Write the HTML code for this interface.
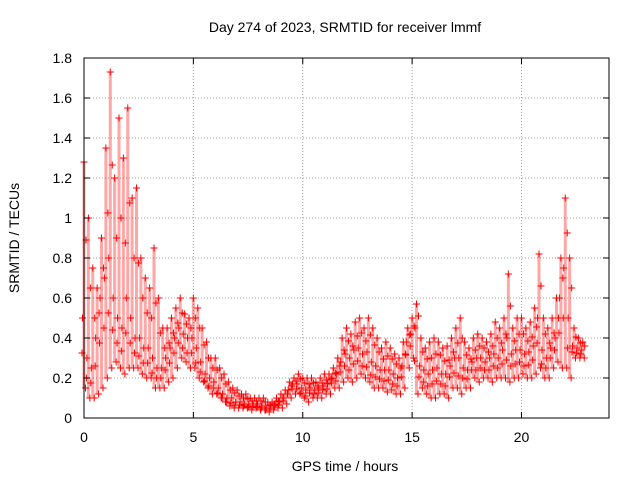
<!DOCTYPE html>
<html><head><meta charset="utf-8"><style>
body{margin:0;background:#fff}
svg{display:block;font-family:"Liberation Sans",sans-serif}
</style></head><body>
<svg id="chart" width="640" height="480">
<text x="345" y="32" font-size="14" text-anchor="middle">Day 274 of 2023, SRMTID for receiver lmmf</text>
<text x="345" y="471" font-size="14" text-anchor="middle">GPS time / hours</text>
<text x="19" y="238" font-size="14" text-anchor="middle" transform="rotate(-90 19 238)">SRMTID / TECUs</text>
<g id="grid"></g><g id="band"></g><g id="marks"></g><g id="axes"></g>
</svg>
<script>
const xTicks=[0,5,10,15,20];
const yTicks=[0,0.2,0.4,0.6,0.8,1,1.2,1.4,1.6,1.8];
const yTickLabels=["0","0.2","0.4","0.6","0.8","1","1.2","1.4","1.6","1.8"];
const timeStep=0.2;
const hiValues=[1.28,1.0,0.75,0.65,0.9, 1.35,1.73,1.2,1.5,1.3, 1.55,1.1,1.15,0.8,0.7, 0.65,0.85,0.6,0.45,0.45,
0.5,0.55,0.6,0.52,0.5, 0.6,0.55,0.45,0.38,0.3, 0.3,0.25,0.22,0.18,0.15, 0.14,0.12,0.12,0.1,0.1,
0.1,0.1,0.08,0.08,0.1, 0.12,0.14,0.18,0.2,0.22, 0.2,0.2,0.2,0.18,0.2, 0.22,0.22,0.25,0.3,0.4,
0.45,0.42,0.48,0.5,0.45, 0.5,0.45,0.4,0.35,0.38, 0.35,0.32,0.3,0.38,0.45, 0.5,0.57,0.4,0.35,0.38,
0.4,0.38,0.35,0.36,0.4, 0.45,0.5,0.38,0.35,0.4, 0.42,0.4,0.38,0.42,0.48, 0.45,0.5,0.72,0.45,0.5,
0.5,0.45,0.48,0.55,0.82, 0.5,0.45,0.5,0.6,0.8, 1.1,0.8,0.45,0.4,0.38];
const loValues=[0.15,0.1,0.1,0.12,0.15, 0.2,0.25,0.28,0.25,0.22, 0.25,0.25,0.25,0.22,0.2, 0.2,0.15,0.15,0.15,0.18,
0.2,0.25,0.3,0.28,0.25, 0.25,0.2,0.18,0.15,0.12, 0.12,0.1,0.08,0.06,0.05, 0.05,0.05,0.05,0.04,0.05,
0.04,0.04,0.03,0.04,0.05, 0.05,0.07,0.1,0.12,0.12, 0.1,0.08,0.1,0.1,0.1, 0.12,0.12,0.15,0.15,0.18,
0.2,0.18,0.2,0.22,0.2, 0.18,0.15,0.15,0.15,0.13, 0.14,0.12,0.12,0.15,0.25, 0.3,0.12,0.15,0.12,0.1,
0.1,0.12,0.12,0.1,0.15, 0.15,0.12,0.15,0.15,0.2, 0.18,0.2,0.2,0.18,0.2, 0.2,0.2,0.18,0.2,0.2,
0.22,0.2,0.2,0.22,0.25, 0.2,0.2,0.25,0.28,0.25, 0.25,0.2,0.3,0.3,0.3];
const midValues=[0.5,0.3,0.25,0.4,0.6, 0.7,0.8,0.6,0.5,0.45, 0.6,0.5,0.4,0.4,0.35, 0.35,0.3,0.25,0.25,0.3,
0.35,0.4,0.45,0.42,0.4, 0.4,0.35,0.28,0.22,0.2, 0.18,0.15,0.12,0.1,0.1, 0.08,0.08,0.07,0.07,0.07,
0.07,0.06,0.05,0.06,0.07, 0.08,0.1,0.14,0.17,0.17, 0.15,0.14,0.15,0.14,0.15, 0.16,0.17,0.2,0.22,0.28,
0.32,0.3,0.34,0.35,0.32, 0.33,0.28,0.26,0.24,0.24, 0.24,0.22,0.2,0.26,0.38, 0.42,0.45,0.26,0.24,0.22,
0.24,0.25,0.22,0.22,0.26, 0.3,0.3,0.25,0.24,0.28, 0.3,0.3,0.28,0.3,0.32, 0.3,0.34,0.4,0.32,0.34,
0.34,0.32,0.33,0.36,0.5, 0.34,0.3,0.35,0.4,0.6, 0.75,0.5,0.36,0.35,0.34];
const L=84,R=609,T=58,B=418,xMax=24,yMax=1.8;
const xs=v=>L+v/xMax*(R-L), ys=v=>B-v/yMax*(B-T);
const NS="http://www.w3.org/2000/svg";
function mk(tag,parent){const e=document.createElementNS(NS,tag);document.getElementById(parent).appendChild(e);return e;}
xTicks.forEach(t=>{
 const g=mk('line','grid');g.setAttribute('x1',xs(t));g.setAttribute('x2',xs(t));g.setAttribute('y1',T);g.setAttribute('y2',B);
 g.setAttribute('stroke','#a0a0a0');g.setAttribute('stroke-dasharray','1 2');
 
 
 const tx=mk('text','axes');tx.setAttribute('x',xs(t));tx.setAttribute('y',B+24);tx.setAttribute('font-size','14');tx.setAttribute('text-anchor','middle');tx.textContent=t;
 
 
 [[B,B-6],[T,T+6]].forEach(p=>{const k=mk('line','axes');k.setAttribute('x1',xs(t));k.setAttribute('x2',xs(t));k.setAttribute('y1',p[0]);k.setAttribute('y2',p[1]);k.setAttribute('stroke','#000');
 
 });
});
yTicks.forEach((t,i)=>{
 const g=mk('line','grid');g.setAttribute('x1',L);g.setAttribute('x2',R);g.setAttribute('y1',ys(t));g.setAttribute('y2',ys(t));
 g.setAttribute('stroke','#a0a0a0');g.setAttribute('stroke-dasharray','1 2');
 
 
 const tx=mk('text','axes');tx.setAttribute('x',L-12);tx.setAttribute('y',ys(t)+5);tx.setAttribute('font-size','14');tx.setAttribute('text-anchor','end');tx.textContent=yTickLabels[i];
 
 
 [[L,L+6],[R,R-6]].forEach(p=>{const k=mk('line','axes');k.setAttribute('x1',p[0]);k.setAttribute('x2',p[1]);k.setAttribute('y1',ys(t));k.setAttribute('y2',ys(t));k.setAttribute('stroke','#000');
 
 });
});
const fr=mk('rect','axes');fr.setAttribute('x',L);fr.setAttribute('y',T);fr.setAttribute('width',R-L);fr.setAttribute('height',B-T);fr.setAttribute('fill','none');fr.setAttribute('stroke','#000');


function plus(v,i,dx){
 const x=xs(i*timeStep)+dx,y=ys(v);
 const p=mk('path','marks');p.setAttribute('d',`M${x-3.5},${y}h7M${x},${y-3.5}v7`);p.setAttribute('stroke','#f00');p.setAttribute('stroke-width','1');
 
 
}
hiValues.forEach((h,i)=>{
 const b=mk('line','band');b.setAttribute('x1',xs(i*timeStep));b.setAttribute('x2',xs(i*timeStep));b.setAttribute('y1',ys(loValues[i]));b.setAttribute('y2',ys(h));
 b.setAttribute('stroke','#f00');b.setAttribute('stroke-width','3');b.setAttribute('stroke-opacity','0.35');
 
 
 plus(h,i,0);plus(loValues[i],i,1.5);plus(midValues[i],i,-1.5);
 plus((midValues[i]+h)/2,i,2);plus((midValues[i]+loValues[i])/2,i,-2);
});
</script>
</body></html>
